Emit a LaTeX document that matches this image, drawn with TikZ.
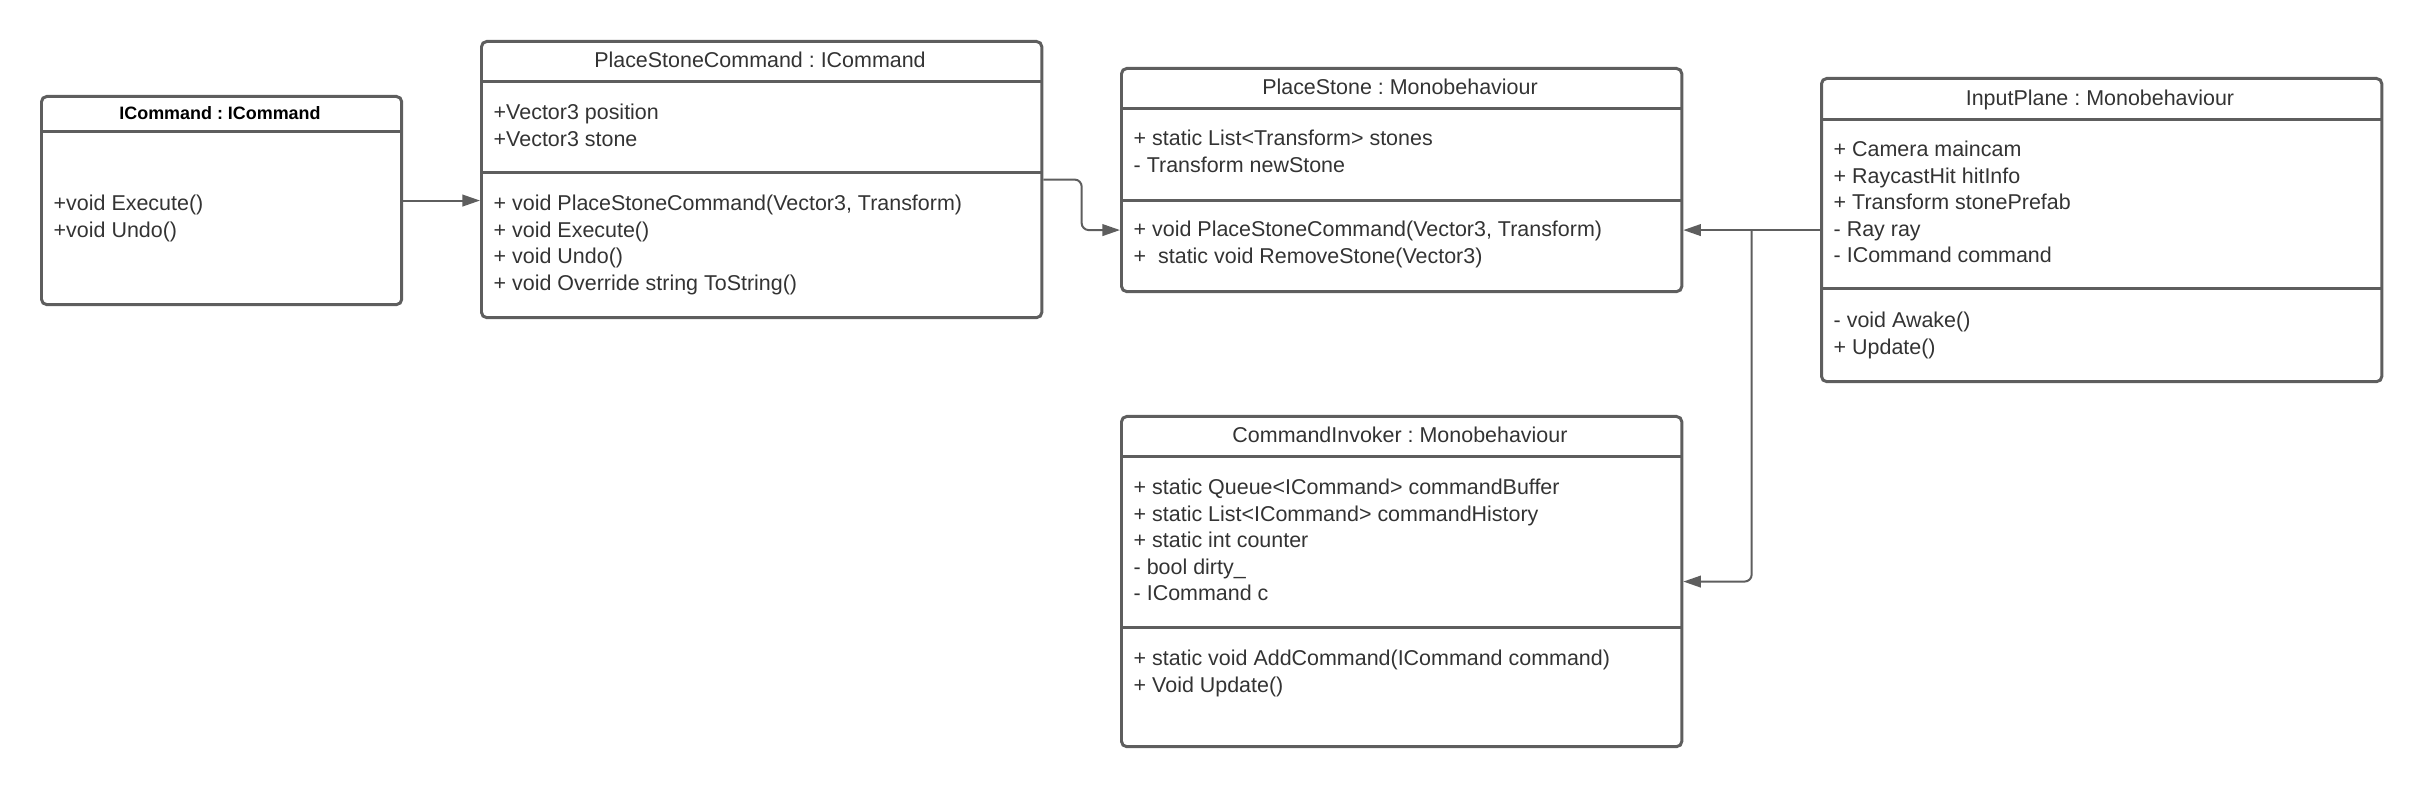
\documentclass[tikz,border=0pt]{standalone}
\usepackage{fontspec}
\setmainfont{Liberation Sans}
\usepackage{tikz}
\usetikzlibrary{arrows.meta,calc}
\frenchspacing

\definecolor{umlgray}{HTML}{5E5E5E}
\definecolor{umltext}{HTML}{333333}

\begin{document}
\begin{tikzpicture}[x=0.01cm, y=-0.01cm, >={Triangle[length=5pt,width=3.3pt]},
	classbox/.style={draw=umlgray, line width=0.85pt, rounded corners=1.5pt, inner sep=0pt, anchor=north west},
	classtitle/.style={font=\fontsize{6.1}{7.5}\selectfont, text=umltext, inner sep=0pt, anchor=base},
	members/.style={font=\fontsize{6.1}{7.54}\selectfont, text=umltext, inner sep=0pt, align=left, anchor=base west},
	divider/.style={draw=umlgray, line width=0.85pt},
	link/.style={draw=umlgray, line width=0.57pt, ->, rounded corners=2pt}]
	\useasboundingbox (0,0) rectangle (2420,786);

	% Classes {icmd, pscmd, pstone, inplane, invoker}
	\node [classbox, minimum width=3.6cm, minimum height=2.08cm]	(icmd)		at (40,95)		{};
	\node [classbox, minimum width=5.6cm, minimum height=2.76cm]	(pscmd)		at (480,40)		{};
	\node [classbox, minimum width=5.6cm, minimum height=2.23cm]	(pstone)	at (1120,67)	{};
	\node [classbox, minimum width=5.6cm, minimum height=3.03cm]	(inplane)	at (1820,77)	{};
	\node [classbox, minimum width=5.6cm, minimum height=3.30cm]	(invoker)	at (1120,415)	{};

	% Compartment lines
	\draw [divider] (icmd.west |- 0,132) -- (icmd.east |- 0,132);
	\draw [divider] (pscmd.west |- 0,82) -- (pscmd.east |- 0,82);
	\draw [divider] (pscmd.west |- 0,173) -- (pscmd.east |- 0,173);
	\draw [divider] (pstone.west |- 0,109) -- (pstone.east |- 0,109);
	\draw [divider] (pstone.west |- 0,201) -- (pstone.east |- 0,201);
	\draw [divider] (inplane.west |- 0,120) -- (inplane.east |- 0,120);
	\draw [divider] (inplane.west |- 0,289) -- (inplane.east |- 0,289);
	\draw [divider] (invoker.west |- 0,457) -- (invoker.east |- 0,457);
	\draw [divider] (invoker.west |- 0,628) -- (invoker.east |- 0,628);

	% Titles
	\node [classtitle, font=\fontsize{5.1}{6}\selectfont\bfseries, text=black]	(icmd-title)	at (220,120)	{ICommand : ICommand};
	\node [classtitle]	(pscmd-title)	at (760,68)		{PlaceStoneCommand : ICommand};
	\node [classtitle]	(pstone-title)	at (1400,95)	{PlaceStone : Monobehaviour};
	\node [classtitle]	(inplane-title)	at (2100,106)	{InputPlane : Monobehaviour};
	\node [classtitle]	(invoker-title)	at (1400,443)	{CommandInvoker : Monobehaviour};

	% Attributes and operations (placed by the baseline of their last line)
	\node [members]	(icmd-ops)		at (53,237.5)	{+void Execute()\\+void Undo()};
	\node [members]	(pscmd-attr)	at (493,146.5)	{+Vector3 position\\+Vector3 stone};
	\node [members]	(pscmd-ops)		at (493,290.5)
	{+ void PlaceStoneCommand(Vector3, Transform)\\+ void Execute()\\
	 + void Undo()\\+ void Override string ToString()};
	\node [members]	(pstone-attr)	at (1133,172.5)	{+ static List<Transform> stones\\- Transform newStone};
	\node [members]	(pstone-ops)	at (1133,263.5)
	{+ void PlaceStoneCommand(Vector3, Transform)\\+\ \ static void RemoveStone(Vector3)};
	\node [members]	(inplane-attr)	at (1833,263)
	{+ Camera maincam\\+ RaycastHit hitInfo\\+ Transform stonePrefab\\
	 - Ray ray\\- ICommand command};
	\node [members]	(inplane-ops)	at (1833,354.5)	{- void Awake()\\+ Update()};
	\node [members]	(invoker-attr)	at (1133,601)
	{+ static Queue<ICommand> commandBuffer\\+ static List<ICommand> commandHistory\\
	 + static int counter\\- bool dirty\_\\- ICommand c};
	\node [members]	(invoker-ops)	at (1133,692.5)
	{+ static void AddCommand(ICommand command)\\+ Void Update()};

	% Paths
	\coordinate (bend) at ($(pscmd.east)!0.5!(pscmd.east -| pstone.west)$);
	\coordinate (fork) at ($(inplane.west)!0.5!(inplane.west -| pstone.east)$);
	\draw [link] (icmd.east) -- (icmd.east -| pscmd.west);
	\draw [link] (pscmd.east) -- (bend) |- (inplane.west -| pstone.west);
	\draw [link] (inplane.west) -- (inplane.west -| pstone.east);
	\draw [link] (fork) |- (invoker.east);

\end{tikzpicture}
\end{document}
